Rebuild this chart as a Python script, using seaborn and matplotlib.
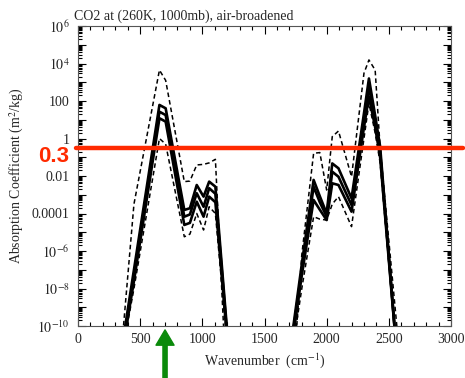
# CO2 absorption coefficient spectrum, recreated with seaborn

import numpy as np
import pandas as pd
import matplotlib
matplotlib.use('Agg')
import matplotlib.pyplot as plt
import seaborn as sns
from matplotlib.ticker import (FixedLocator, FixedFormatter, MultipleLocator,
                               LogLocator, NullFormatter)

# wavenumber grid (cm-1) and log10 of the absorption coefficient (m2/kg)
wavenumber = [340, 450, 655, 705, 855, 900, 955, 1010, 1055, 1105, 1200,
              1720, 1800, 1895, 1945, 2000, 2045, 2095, 2200, 2300, 2340,
              2390, 2430, 2570]
log_upper_dashed = [-12.0, -3.5, 3.65, 3.1, -2.3, -2.27, -1.41, -1.38, -1.3,
                    -1.11, -14.0, -13.7, -6.2, -0.79, -0.75, -2.75, 0.1, 0.4,
                    -2.04, 3.48, 4.19, 3.65, -0.5, -10.4]
log_solid_1 = [-11.7, -7.0, 1.79, 1.61, -3.81, -3.72, -2.48, -3.1, -2.3, -2.57,
               -10.3, -10.6, -6.7, -2.21, -3.08, -4.0, -1.33, -1.59, -3.19,
               1.34, 3.2, 1.22, -0.43, -12.0]
log_solid_2 = [-12.0, -7.3, 1.43, 1.25, -4.17, -4.05, -2.92, -3.64, -2.65,
               -2.95, -10.5, -10.8, -7.0, -2.57, -3.4, -4.17, -1.77, -2.04,
               -3.55, 0.9, 2.76, 0.9, -0.7, -12.0]
log_solid_3 = [-12.0, -7.6, 1.08, 0.9, -4.61, -4.5, -3.37, -4.17, -3.1, -3.4,
               -10.7, -11.0, -7.3, -3.28, -3.8, -4.35, -2.39, -2.48, -3.9,
               0.6, 2.23, 0.6, -1.0, -12.0]
log_lower_dashed = [-12.0, -8.0, 0.0, -0.3, -5.24, -5.1, -4.0, -4.88, -3.64,
                    -4.0, -11.0, -11.5, -8.0, -4.17, -4.3, -4.35, -3.5, -3.1,
                    -4.7, 0.0, 1.88, 0.3, -1.3, -12.0]

ytick_values = [1e-10, 1e-9, 1e-8, 1e-7, 1e-6, 1e-5, 1e-4, 1e-3, 1e-2, 1e-1,
                1, 10, 100, 1e3, 1e4, 1e5, 1e6]
ytick_labels = ['$10^{-10}$', '', '$10^{-8}$', '', '$10^{-6}$', '', '0.0001',
                '', '0.01', '', '1', '', '100', '', '$10^{4}$', '', '$10^{6}$']

threshold = 0.3
arrow_x = 700

sns.set_style('ticks')
plt.rcParams['font.family'] = ['Liberation Serif', 'DejaVu Serif']
plt.rcParams['mathtext.fontset'] = 'stix'

df = pd.DataFrame({'wavenumber': wavenumber})
curves = [
    ('upper_dashed', log_upper_dashed, '--', 1.1),
    ('solid_1', log_solid_1, '-', 1.9),
    ('solid_2', log_solid_2, '-', 1.9),
    ('solid_3', log_solid_3, '-', 1.9),
    ('lower_dashed', log_lower_dashed, '--', 1.1),
]

fig = plt.figure(figsize=(4.65, 3.78), dpi=100)
ax = fig.add_axes([78 / 465, 1 - 326 / 378, 373 / 465, 300 / 378])

for name, vals, ls, lw in curves:
    df[name] = 10.0 ** np.array(vals)
    sns.lineplot(data=df, x='wavenumber', y=name, ax=ax, color='black',
                 linewidth=lw, sort=False, estimator=None)
    if ls == '--':
        ax.lines[-1].set_linestyle((0, (3, 2)))

ax.set_yscale('log')
ax.set_xlim(0, 3000)
ax.set_ylim(1e-10, 1e6)

ax.xaxis.set_major_locator(MultipleLocator(500))
ax.xaxis.set_minor_locator(MultipleLocator(100))
ax.yaxis.set_major_locator(FixedLocator(ytick_values))
ax.yaxis.set_major_formatter(FixedFormatter(ytick_labels))
ax.yaxis.set_minor_locator(LogLocator(base=10, subs=np.arange(2, 10), numticks=100))
ax.yaxis.set_minor_formatter(NullFormatter())

ax.tick_params(which='both', direction='in', top=True, right=True,
               labelsize=10, width=0.8, color='black')
ax.tick_params(which='major', length=6)
ax.tick_params(which='minor', length=3)
ax.tick_params(axis='y', pad=6)
ax.tick_params(axis='x', pad=5)
for sp in ax.spines.values():
    sp.set_linewidth(0.8)
    sp.set_color('#555555')

ax.set_xlabel('Wavenumber  (cm$^{-1}$)', fontsize=10, labelpad=4)
ax.set_ylabel('Absorption Coefficient (m$^{2}$/kg)', fontsize=10, labelpad=4)

fig.text(74 / 465, 1 - 20 / 378, 'CO2 at (260K, 1000mb), air-broadened',
         fontsize=10, ha='left', va='baseline')

# threshold line and label
ax.axhline(threshold, xmin=-0.005, xmax=1.032, color='#ff2a00', linewidth=3.2,
           clip_on=False, zorder=5)
fig.text(54 / 465, 1 - 156 / 378, '0.3', color='#ff2a00', fontsize=16,
         fontweight='bold', family=['Liberation Sans', 'DejaVu Sans'],
         ha='center', va='center')

# green arrow below the 667 cm-1 band
ax.annotate('', xy=(arrow_x, -0.013), xytext=(arrow_x, -0.175),
            xycoords=('data', 'axes fraction'),
            textcoords=('data', 'axes fraction'),
            arrowprops=dict(width=3, headwidth=13, headlength=11,
                            color='#0a8a0a', shrink=0),
            annotation_clip=False)

fig.savefig('out.png', dpi=100)
